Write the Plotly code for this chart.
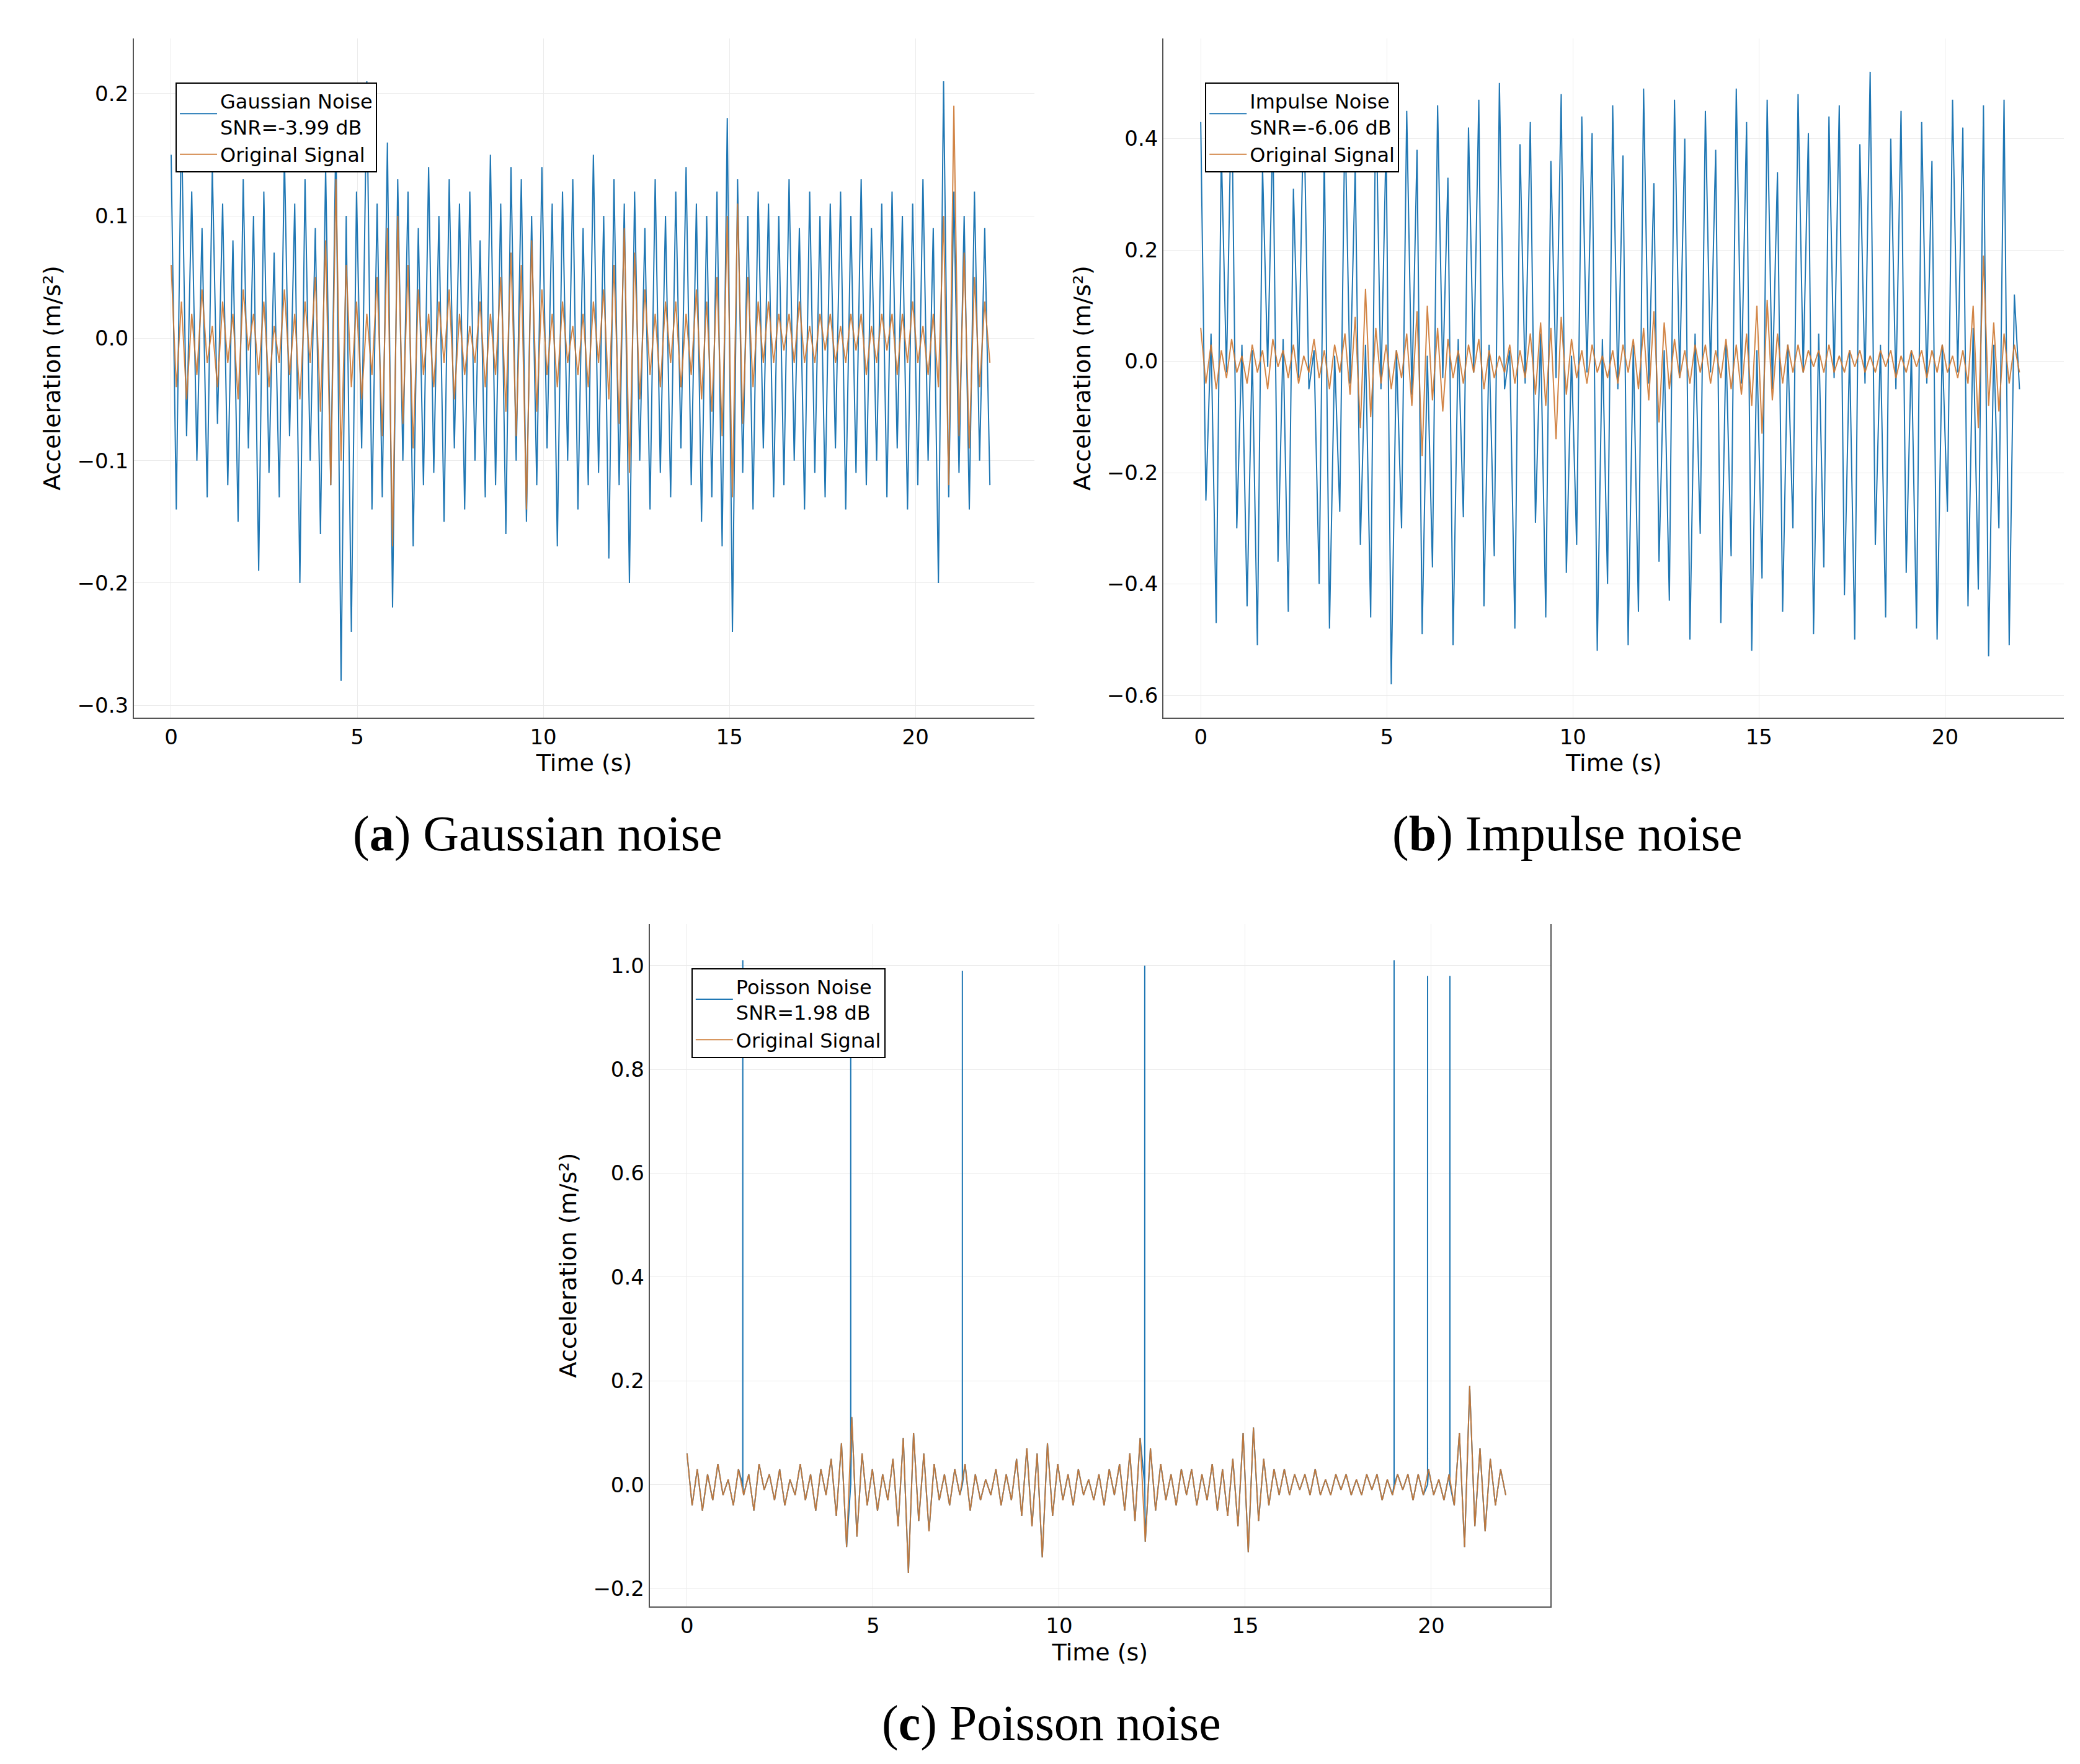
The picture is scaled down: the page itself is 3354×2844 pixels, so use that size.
import numpy as np
import plotly.graph_objects as go

orig = [0.06,-0.04,0.03,-0.05,0.02,-0.03,0.04,-0.02,0.01,-0.04,
0.03,-0.02,0.02,-0.05,0.04,-0.01,0.02,-0.03,0.03,-0.04,
0.01,-0.02,0.04,-0.03,0.02,-0.05,0.03,-0.02,0.05,-0.06,
0.08,-0.12,0.13,-0.10,0.06,-0.04,0.03,-0.05,0.02,-0.03,
0.05,-0.08,0.09,-0.17,0.10,-0.07,0.06,-0.09,0.04,-0.03,
0.02,-0.04,0.03,-0.02,0.04,-0.05,0.02,-0.03,0.01,-0.02,
0.03,-0.04,0.02,-0.03,0.05,-0.06,0.07,-0.08,0.06,-0.14,
0.08,-0.06,0.04,-0.03,0.02,-0.04,0.03,-0.02,0.01,-0.03,
0.02,-0.04,0.03,-0.02,0.04,-0.05,0.06,-0.07,0.09,-0.11,
0.07,-0.05,0.04,-0.03,0.02,-0.04,0.03,-0.02,0.03,-0.04,
0.02,-0.03,0.04,-0.05,0.03,-0.06,0.05,-0.08,0.10,-0.13,
0.11,-0.07,0.05,-0.04,0.03,-0.02,0.03,-0.02,0.02,-0.01,
0.02,-0.02,0.03,-0.02,0.01,-0.02,0.02,-0.01,0.02,-0.02,
0.01,-0.02,0.02,-0.01,0.02,-0.03,0.01,-0.02,0.02,-0.01,
0.02,-0.03,0.02,-0.02,0.03,-0.02,0.01,-0.03,0.02,-0.04,
0.10,-0.12,0.19,-0.08,0.07,-0.09,0.05,-0.04,0.03,-0.02]

gauss = [0.15,-0.14,0.18,-0.08,0.12,-0.10,0.09,-0.13,0.14,-0.07,
0.11,-0.12,0.08,-0.15,0.13,-0.09,0.10,-0.19,0.12,-0.11,
0.07,-0.13,0.15,-0.08,0.11,-0.20,0.13,-0.10,0.09,-0.16,
0.14,-0.12,0.17,-0.28,0.10,-0.24,0.12,-0.09,0.21,-0.14,
0.11,-0.13,0.16,-0.22,0.13,-0.10,0.12,-0.17,0.09,-0.12,
0.14,-0.11,0.10,-0.15,0.13,-0.09,0.11,-0.14,0.12,-0.10,
0.08,-0.13,0.15,-0.12,0.11,-0.16,0.14,-0.10,0.13,-0.15,
0.10,-0.12,0.14,-0.09,0.11,-0.17,0.12,-0.10,0.13,-0.14,
0.09,-0.12,0.15,-0.11,0.10,-0.18,0.13,-0.12,0.11,-0.20,
0.12,-0.10,0.09,-0.14,0.13,-0.11,0.10,-0.13,0.12,-0.09,
0.14,-0.12,0.11,-0.15,0.10,-0.13,0.12,-0.17,0.18,-0.24,
0.13,-0.11,0.10,-0.14,0.12,-0.09,0.11,-0.13,0.10,-0.12,
0.13,-0.10,0.09,-0.14,0.12,-0.11,0.10,-0.13,0.11,-0.09,
0.12,-0.14,0.10,-0.11,0.13,-0.12,0.09,-0.10,0.11,-0.13,
0.12,-0.09,0.10,-0.14,0.11,-0.12,0.13,-0.10,0.09,-0.20,
0.21,-0.13,0.12,-0.11,0.10,-0.14,0.12,-0.10,0.09,-0.12]

impulse = [0.43,-0.25,0.05,-0.47,0.38,-0.02,0.50,-0.30,0.03,-0.44,
0.02,-0.51,0.35,-0.01,0.42,-0.36,0.04,-0.45,0.31,-0.03,
0.47,-0.05,0.02,-0.40,0.38,-0.48,0.01,-0.27,0.44,-0.04,
0.35,-0.33,0.03,-0.46,0.49,-0.05,0.40,-0.58,0.02,-0.30,
0.45,-0.06,0.38,-0.49,0.01,-0.37,0.46,-0.03,0.33,-0.51,
0.04,-0.28,0.42,-0.02,0.47,-0.44,0.03,-0.35,0.50,-0.05,
0.02,-0.48,0.39,-0.04,0.43,-0.29,0.05,-0.46,0.36,-0.03,
0.48,-0.38,0.01,-0.33,0.44,-0.02,0.41,-0.52,0.04,-0.40,
0.46,-0.05,0.37,-0.51,0.03,-0.45,0.49,-0.04,0.32,-0.36,
0.02,-0.43,0.47,-0.03,0.40,-0.50,0.05,-0.31,0.45,-0.02,
0.38,-0.47,0.03,-0.35,0.49,-0.04,0.43,-0.52,0.02,-0.39,
0.47,-0.05,0.34,-0.45,0.03,-0.30,0.48,-0.02,0.41,-0.49,
0.05,-0.37,0.44,-0.03,0.46,-0.42,0.02,-0.50,0.39,-0.04,
0.52,-0.33,0.03,-0.46,0.40,-0.05,0.45,-0.38,0.02,-0.48,
0.43,-0.04,0.36,-0.50,0.03,-0.27,0.47,-0.02,0.42,-0.44,
0.06,-0.41,0.46,-0.53,0.03,-0.30,0.47,-0.51,0.12,-0.05]

spike_t = [1.5, 4.4, 7.4, 12.3, 19.0, 19.9, 20.5]
spike_h = [1.01, 0.95, 0.99, 1.0, 1.01, 0.98, 0.98]

t = np.linspace(0, 22, len(orig))

pts = list(zip(t, orig))
for st, sh in zip(spike_t, spike_h):
    pts += [(st - 0.001, 0.0), (st, sh), (st + 0.001, 0.0)]
pts.sort()
pt = [p[0] for p in pts]
pv = [p[1] for p in pts]

BLUE = "#1f77b4"
ORANGE = "rgba(205,120,50,0.9)"
fig = go.Figure()

panels = [
    ("x", "y", "legend", gauss, "Gaussian Noise<br>SNR=-3.99 dB", t),
    ("x2", "y2", "legend2", impulse, "Impulse Noise<br>SNR=-6.06 dB", t),
    ("x3", "y3", "legend3", pv, "Poisson Noise<br>SNR=1.98 dB", pt),
]
for xa, ya, lg, vals, name, tt in panels:
    fig.add_trace(go.Scatter(x=tt, y=vals, mode="lines", line=dict(color=BLUE, width=2),
                             name=name, xaxis=xa, yaxis=ya, legend=lg))
    fig.add_trace(go.Scatter(x=t, y=orig, mode="lines", line=dict(color=ORANGE, width=2),
                             name="Original Signal", xaxis=xa, yaxis=ya, legend=lg))

font = dict(family="DejaVu Sans", size=34, color="black")
axcommon = dict(showgrid=True, gridcolor="#ebebeb", zeroline=False, ticks="",
                tickfont=font, showline=True, linecolor="#555", linewidth=2)
xdoms = [[0.062, 0.495], [0.557, 0.99], [0.31, 0.743]]
ydoms = [[0.596, 0.981], [0.596, 0.981], [0.092, 0.479]]
yranges = [[-0.31, 0.245], [-0.64, 0.58], [-0.235, 1.08]]
ydt = [0.1, 0.2, 0.2]
for i in range(3):
    s = "" if i == 0 else str(i + 1)
    fig.layout["xaxis" + s] = dict(axcommon, domain=xdoms[i], range=[-1, 23.2], dtick=5,
                                   anchor="y" + s, title=dict(text="Time (s)", font=dict(font, size=38), standoff=10))
    fig.layout["yaxis" + s] = dict(axcommon, domain=ydoms[i], range=yranges[i], dtick=ydt[i],
                                   anchor="x" + s, mirror=(i == 2), tickformat=".1f",
                                   title=dict(text="Acceleration (m/s²)", font=dict(font, size=38)))
    fig.layout["legend" + ("" if i == 0 else str(i + 1))] = dict(
        x=xdoms[i][0] + 0.02, y=ydoms[i][1] - 0.025, xanchor="left", yanchor="top",
        bgcolor="white", bordercolor="black", borderwidth=2, font=dict(font, size=32),
        itemwidth=60, tracegroupgap=4)

capfont = dict(family="Liberation Serif", size=80, color="black")
for txt, x, y in [("(<b>a</b>) Gaussian noise", 0.256, 0.53),
                  ("(<b>b</b>) Impulse noise", 0.751, 0.53),
                  ("(<b>c</b>) Poisson noise", 0.503, 0.026)]:
    fig.add_annotation(text=txt, x=x, y=y, xref="paper", yref="paper", xanchor="center",
                       yanchor="middle", showarrow=False, font=capfont)

fig.update_layout(width=3354, height=2844, plot_bgcolor="white", paper_bgcolor="white",
                  margin=dict(l=0, r=0, t=0, b=0), showlegend=True)
fig.write_html("out.html")
